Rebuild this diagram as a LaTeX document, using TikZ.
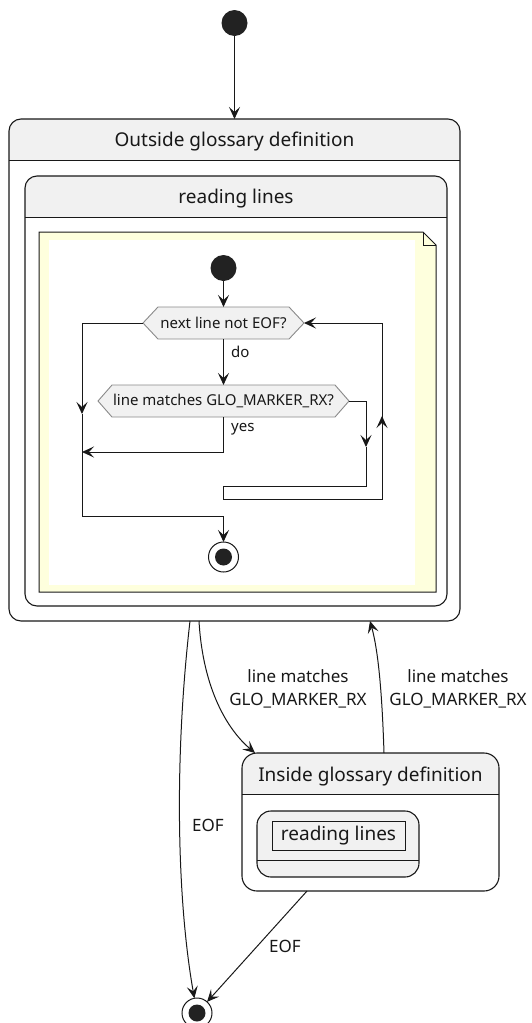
\documentclass[tikz,border=0pt]{standalone}
\usepackage{fontspec}
\setmainfont{Noto Sans}
\usetikzlibrary{arrows.meta,calc}

\definecolor{ink}{HTML}{181818}
\definecolor{hdrgray}{HTML}{F1F1F1}
\definecolor{notefill}{HTML}{FEFFDD}
\definecolor{hexedge}{HTML}{8A8A8A}
\definecolor{dot}{HTML}{222222}

\tikzset{
  wire/.style={draw=ink, line width=1pt},
  arr/.style={wire, -{Stealth[length=12pt,width=11pt,inset=5pt]}},
  framebox/.style={draw=ink, line width=1.1pt, rounded corners=#1, inner sep=0pt, outer sep=0pt},
  titletext/.style={font=\fontsize{19}{22}\selectfont, text=ink, inner sep=0pt},
  lbl/.style={font=\fontsize{17}{23}\selectfont, text=ink, inner sep=0pt, align=center},
  actlbl/.style={font=\fontsize{15}{18}\selectfont, text=ink, inner sep=0pt},
  hexbox/.style={minimum height=32pt, inner sep=0pt, outer sep=0pt},
  hexshape/.style={draw=hexedge, fill=hdrgray, line width=0.9pt},
  startdot/.style={circle, fill=dot, minimum size=26pt, inner sep=0pt, outer sep=0pt},
  endring/.style={circle, draw=ink, fill=white, line width=1pt, minimum size=30pt, inner sep=0pt, outer sep=0pt},
  enddot/.style={circle, fill=dot, minimum size=17pt, inner sep=0pt},
}

% hexagonal decision outline around a named box
\newcommand\hexoutline[2]{%
  \filldraw[hexshape] (#1.west) -- ([xshift=#2]#1.north west) -- ([xshift=-#2]#1.north east)
    -- (#1.east) -- ([xshift=-#2]#1.south east) -- ([xshift=#2]#1.south west) -- cycle;}

\begin{document}
\begin{tikzpicture}[x=1pt,y=-1pt]
\useasboundingbox (0,0) rectangle (531,1023);

% ---------- top level start ----------
\node[startdot] (start) at (234.5,23) {};

% ---------- composite state: Outside glossary definition ----------
\begin{scope}
  \clip (9,119) rectangle (460,160);
  \fill[hdrgray, rounded corners=12pt] (9,119) rectangle (460,621);
\end{scope}
\node[framebox=12pt, minimum width=451pt, minimum height=502pt] (outer) at (234.5,370) {};
\draw[wire] (9,160) -- (460,160);
\node[titletext] (outertitle) at (234.5,141.5) {Outside glossary definition};

% ---------- nested state: reading lines ----------
\begin{scope}
  \clip (25,176) rectangle (447,217);
  \fill[hdrgray, rounded corners=12pt] (25,176) rectangle (447,606);
\end{scope}
\node[framebox=12pt, minimum width=422pt, minimum height=430pt] (reading) at (236,391) {};
\draw[wire] (25,217) -- (447,217);
\node[titletext] (readingtitle) at (236,198.5) {reading lines};

% ---------- note holding the activity ----------
\filldraw[draw=ink, fill=notefill, line width=1pt]
  (39,232) -- (423,232) -- (436,245) -- (436,592) -- (39,592) -- cycle;
\draw[draw=ink, line width=1pt] (423,232) -- (423,245) -- (436,245);
\fill[white] (49,240) rectangle (415,585);

% activity nodes
\node[startdot] (astart) at (223.5,268) {};
\node[hexbox, minimum width=161pt] (dec1) at (223.5,323) {};
\hexoutline{dec1}{15pt}
\node[actlbl] (dec1text) at (dec1.center) {next line not EOF?};
\node[hexbox, minimum width=251pt] (dec2) at (223.5,401) {};
\hexoutline{dec2}{14pt}
\node[actlbl] (dec2text) at (dec2.center) {line matches GLO\_MARKER\_RX?};
\node[endring] (afinal) at (223.5,557) {};
\node[enddot] (afinaldot) at (afinal) {};

% activity routing points
\coordinate (leftdown) at (82,414);
\coordinate (yesjoin) at (82,452);
\coordinate (leftbottom) at (82,516);
\coordinate (rdown) at (366,447);
\coordinate (rbend) at (366,486);
\coordinate (loopa) at (223.5,486);
\coordinate (loopb) at (223.5,499);
\coordinate (loopc) at (382,499);
\coordinate (rup) at (382,416);

% activity flows
\draw[arr] (astart) -- (dec1.north);
\draw[arr] (dec1.south) -- (dec2.north);
\node[actlbl, anchor=west] (dolbl) at (231,352) {do};
\draw[arr] (dec1.west) -| (leftdown);
\draw[arr] (leftdown) -- (leftbottom) -| (afinal.north);
\draw[arr] (dec2.south) |- (yesjoin);
\node[actlbl, anchor=west] (yeslbl) at (231,429) {yes};
\draw[arr] (dec2.east) -| (rdown);
\draw[wire] (rdown) -- (rbend) -- (loopa) -- (loopb) -- (loopc) -- (rup);
\draw[arr] (loopc) -- (rup);
\draw[arr] (rup) |- (dec1.east);

% ---------- composite state: Inside glossary definition ----------
\begin{scope}
  \clip (242,753) rectangle (499,794);
  \fill[hdrgray, rounded corners=15pt] (242,753) rectangle (499,891);
\end{scope}
\node[framebox=15pt, minimum width=257pt, minimum height=138pt] (inside) at (370.5,822) {};
\draw[wire] (242,794) -- (499,794);
\node[titletext] (insidetitle) at (370.5,776.5) {Inside glossary definition};

\node[framebox=14pt, fill=hdrgray, minimum width=162pt, minimum height=66pt] (insideinner) at (338,844) {};
\draw[wire] (257,860) -- (419,860);
\node[draw=ink, fill=hdrgray, line width=1pt, minimum width=133pt, minimum height=29pt,
      inner sep=0pt, font=\fontsize{19}{22}\selectfont, text=ink] (innerref) at (338.5,835.5) {reading lines};

% ---------- top level final ----------
\node[endring] (final) at (197,1013) {};
\node[enddot] (finaldot) at (final) {};

% ---------- transitions ----------
\coordinate (outeof) at (190,621);
\coordinate (outtoin) at (199,621);
\coordinate (inentry) at (255,753);
\coordinate (inexit) at (384,753);
\coordinate (outreturn) at (370,621);
\coordinate (ineof) at (307,891);

\draw[arr] (start) -- (start |- outer.north);
\draw[arr] (outeof) .. controls (174,760) and (177,900) .. (final);
\node[lbl] (eofa) at (208,825) {EOF};
\draw[arr] (outtoin) .. controls (203,690) and (228,730) .. (inentry);
\node[lbl] (matcha) at (298,689) {line matches\\GLO\_MARKER\_RX};
\draw[arr] (inexit) .. controls (382,690) and (378,650) .. (outreturn);
\node[lbl] (matchb) at (458,689) {line matches\\GLO\_MARKER\_RX};
\draw[arr] (ineof) -- (final);
\node[lbl] (eofb) at (285,946) {EOF};

\end{tikzpicture}
\end{document}
